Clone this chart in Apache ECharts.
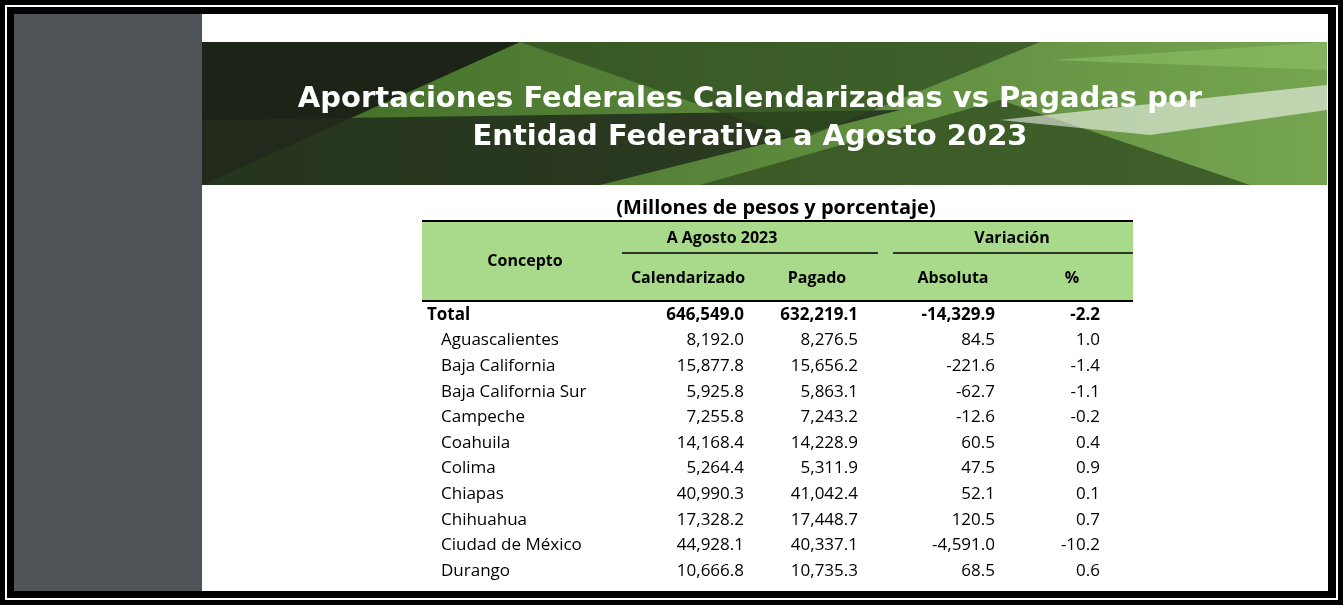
<!DOCTYPE html><html><head><meta charset="utf-8">
<script src="https://cdn.jsdelivr.net/npm/echarts@6/dist/echarts.min.js"></script>
<style>html,body{margin:0;padding:0;background:#000}#c{width:1343px;height:605px}</style></head><body><div id="c"></div>
<script>
const titleLines=["Aportaciones Federales Calendarizadas vs Pagadas por","Entidad Federativa a Agosto 2023"];
const subtitle="(Millones de pesos y porcentaje)";
const groupHeaders=["A Agosto 2023","Variación"];
const colHeaders=["Concepto","Calendarizado","Pagado","Absoluta","%"];
const categories=["Total","Aguascalientes","Baja California","Baja California Sur","Campeche","Coahuila","Colima","Chiapas","Chihuahua","Ciudad de México","Durango"];
const calendarizado=["646,549.0","8,192.0","15,877.8","5,925.8","7,255.8","14,168.4","5,264.4","40,990.3","17,328.2","44,928.1","10,666.8"];
const pagado=["632,219.1","8,276.5","15,656.2","5,863.1","7,243.2","14,228.9","5,311.9","41,042.4","17,448.7","40,337.1","10,735.3"];
const absoluta=["-14,329.9","84.5","-221.6","-62.7","-12.6","60.5","47.5","52.1","120.5","-4,591.0","68.5"];
const pct=["-2.2","1.0","-1.4","-1.1","-0.2","0.4","0.9","0.1","0.7","-10.2","0.6"];

const F='"Open Sans", Lato, sans-serif';
const g=[];
g.push({type:'rect',shape:{x:0,y:0,width:1343,height:605},style:{fill:'#000'}});
g.push({type:'rect',shape:{x:6,y:6,width:1331,height:593},style:{fill:'none',stroke:'#fff',lineWidth:2}});
g.push({type:'rect',shape:{x:14,y:14,width:1314,height:577},style:{fill:'#fff'}});
g.push({type:'rect',shape:{x:14,y:14,width:188,height:577},style:{fill:'#505459'}});
g.push({type:'rect',shape:{x:202,y:42,width:1125,height:143},style:{fill:new echarts.graphic.LinearGradient(0,0,1,0,[{offset:0,color:'#3f6a25'},{offset:1,color:'#76a551'}])}});
g.push({type:'polygon',shape:{points:[[202,42],[520,42],[202,185]]},style:{fill:'#1b2417'}});
g.push({type:'polygon',shape:{points:[[202,120],[202,185],[600,185],[900,110]]},style:{fill:'#222b1c',opacity:0.85}});
g.push({type:'polygon',shape:{points:[[520,42],[1040,42],[800,140]]},style:{fill:'#2d4a1f',opacity:0.7}});
g.push({type:'polygon',shape:{points:[[700,185],[1000,100],[1250,185]]},style:{fill:'#334f22',opacity:0.8}});
g.push({type:'polygon',shape:{points:[[1000,120],[1327,85],[1327,110],[1150,135]]},style:{fill:'#ffffff',opacity:0.55}});
g.push({type:'polygon',shape:{points:[[1050,60],[1327,42],[1327,70]]},style:{fill:'#8cbf66',opacity:0.6}});
titleLines.forEach((t,i)=>g.push({type:'text',style:{x:750,y:99+i*38,text:t,fill:'#fff',font:'bold 29px "DejaVu Sans", sans-serif',align:'center',verticalAlign:'middle'}}));
g.push({type:'text',style:{x:776,y:208,text:subtitle,fill:'#000',font:'bold 20px '+F,align:'center',verticalAlign:'middle'}});
g.push({type:'rect',shape:{x:422,y:221,width:711,height:80},style:{fill:'#a9d98a'}});
const line=(x1,y1,x2,y2,w)=>g.push({type:'line',shape:{x1,y1,x2,y2},style:{stroke:'#000',lineWidth:w}});
line(422,221,1133,221,2);line(422,301,1133,301,2);line(622,253,878,253,1.5);line(893,253,1133,253,1.5);
const hf='bold 16px '+F;
g.push({type:'text',style:{x:722,y:238,text:groupHeaders[0],font:hf,fill:'#000',align:'center',verticalAlign:'middle'}});
g.push({type:'text',style:{x:1012,y:238,text:groupHeaders[1],font:hf,fill:'#000',align:'center',verticalAlign:'middle'}});
g.push({type:'text',style:{x:525,y:261,text:colHeaders[0],font:hf,fill:'#000',align:'center',verticalAlign:'middle'}});
[688,817,953,1072].forEach((x,i)=>g.push({type:'text',style:{x,y:278,text:colHeaders[i+1],font:hf,fill:'#000',align:'center',verticalAlign:'middle'}}));
const rights=[744,858,995,1100];
categories.forEach((c,i)=>{
  const y=315+i*25.6, b=i===0;
  const f=(b?'bold ':'')+'17px '+F;
  g.push({type:'text',style:{x:b?427:441,y,text:c,font:f,fill:'#000',verticalAlign:'middle'}});
  [calendarizado,pagado,absoluta,pct].forEach((arr,j)=>g.push({type:'text',style:{x:rights[j],y,text:arr[i],font:f,fill:'#000',align:'right',verticalAlign:'middle'}}));
});
const ch=echarts.init(document.getElementById('c'));
ch.setOption({animation:false,graphic:{elements:g}});
</script></body></html>
